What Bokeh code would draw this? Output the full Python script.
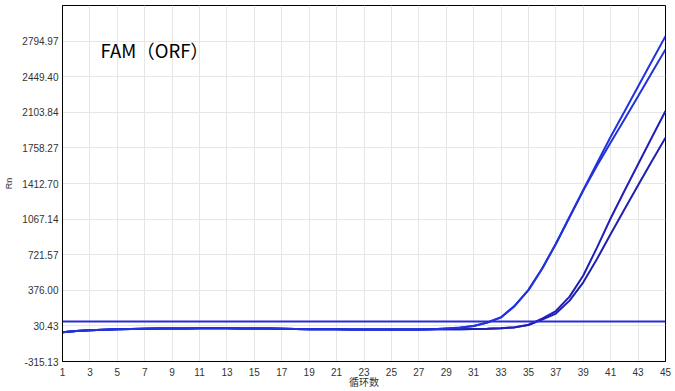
from bokeh.plotting import figure
from bokeh.models import FixedTicker, PrintfTickFormatter, Label, Span, Range1d
from bokeh.embed import file_html
from bokeh.resources import INLINE

cycles = list(range(1, 46))

base = [-32, -20, -12, -7, -3, 0, 2, 4, 5, 6, 7, 7, 7, 6, 5, 4, 2, 0, -1, -2,
        -3, -4, -4, -5, -5, -5, -4, -3]

curve_a = base + [6, 14, 30, 64, 115, 227, 380, 588, 828, 1090, 1350, 1610, 1866, 2110, 2355, 2600, 2843]
curve_b = base + [5, 13, 29, 62, 112, 224, 378, 586, 825, 1085, 1345, 1585, 1810, 2035, 2260, 2487, 2714]
curve_c = base + [-3, -2, 0, 3, 8, 18, 42, 100, 175, 315, 520, 790, 1075, 1340, 1600, 1860, 2117]
curve_d = base + [-3, -2, 0, 2, 7, 16, 38, 92, 150, 276, 453, 680, 922, 1160, 1395, 1628, 1858]

threshold = 72

y_ticks = [-315.13, 30.43, 376.00, 721.57, 1067.14, 1412.70, 1758.27, 2103.84, 2449.40, 2794.97]
y_top = 3140.54
x_ticks = list(range(1, 46, 2))

title_text = "FAM（ORF）"
x_label = "循环数"
y_label = "Rn"

p = figure(width=675, height=391, output_backend="svg", toolbar_location=None,
           x_range=Range1d(1, 45), y_range=Range1d(y_ticks[0], y_top),
           min_border_left=62, min_border_right=10, min_border_top=5, min_border_bottom=30)
p.background_fill_color = "white"
p.border_fill_color = "white"
p.outline_line_color = "black"
p.outline_line_width = 1

p.xaxis.ticker = FixedTicker(ticks=x_ticks)
p.yaxis.ticker = FixedTicker(ticks=y_ticks)
p.yaxis.formatter = PrintfTickFormatter(format="%.2f")
p.xgrid.ticker = FixedTicker(ticks=x_ticks)
p.ygrid.ticker = FixedTicker(ticks=y_ticks + [y_top])
p.grid.grid_line_color = "#e6e6e6"
p.grid.grid_line_width = 1

for ax in (p.xaxis, p.yaxis):
    ax.major_tick_line_color = None
    ax.minor_tick_line_color = None
    ax.major_tick_out = 0
    ax.major_tick_in = 0
    ax.minor_tick_out = 0
    ax.minor_tick_in = 0
    ax.axis_line_color = "black"
    ax.major_label_text_font = "Liberation Sans"
    ax.major_label_text_font_size = "10px"
    ax.major_label_text_color = "#333333"
    ax.axis_label_text_font_style = "normal"
    ax.axis_label_text_color = "#333333"

p.xaxis.major_label_standoff = 6
p.yaxis.major_label_standoff = 4
p.xaxis.axis_label = x_label
p.xaxis.axis_label_text_font = "Noto Sans CJK SC"
p.xaxis.axis_label_text_font_size = "10px"
p.xaxis.axis_label_standoff = -5
p.yaxis.axis_label = y_label
p.yaxis.axis_label_text_font = "Liberation Sans"
p.yaxis.axis_label_text_font_size = "9px"
p.yaxis.axis_label_standoff = 5

p.line(cycles, curve_d, line_color="#1f1fb0", line_width=2)
p.line(cycles, curve_c, line_color="#1f1fb8", line_width=2)
p.line(cycles, curve_b, line_color="#2233d8", line_width=2)
p.line(cycles, curve_a, line_color="#2233dd", line_width=2)

p.add_layout(Span(location=threshold, dimension="width", line_color="#2a2ad8", line_width=2))

p.add_layout(Label(x=3.77, y=2710, text=title_text, text_font="Noto Sans CJK SC",
                   text_font_size="18.5px", text_color="black", text_baseline="alphabetic"))

open("out.html", "w").write(file_html(p, INLINE))
